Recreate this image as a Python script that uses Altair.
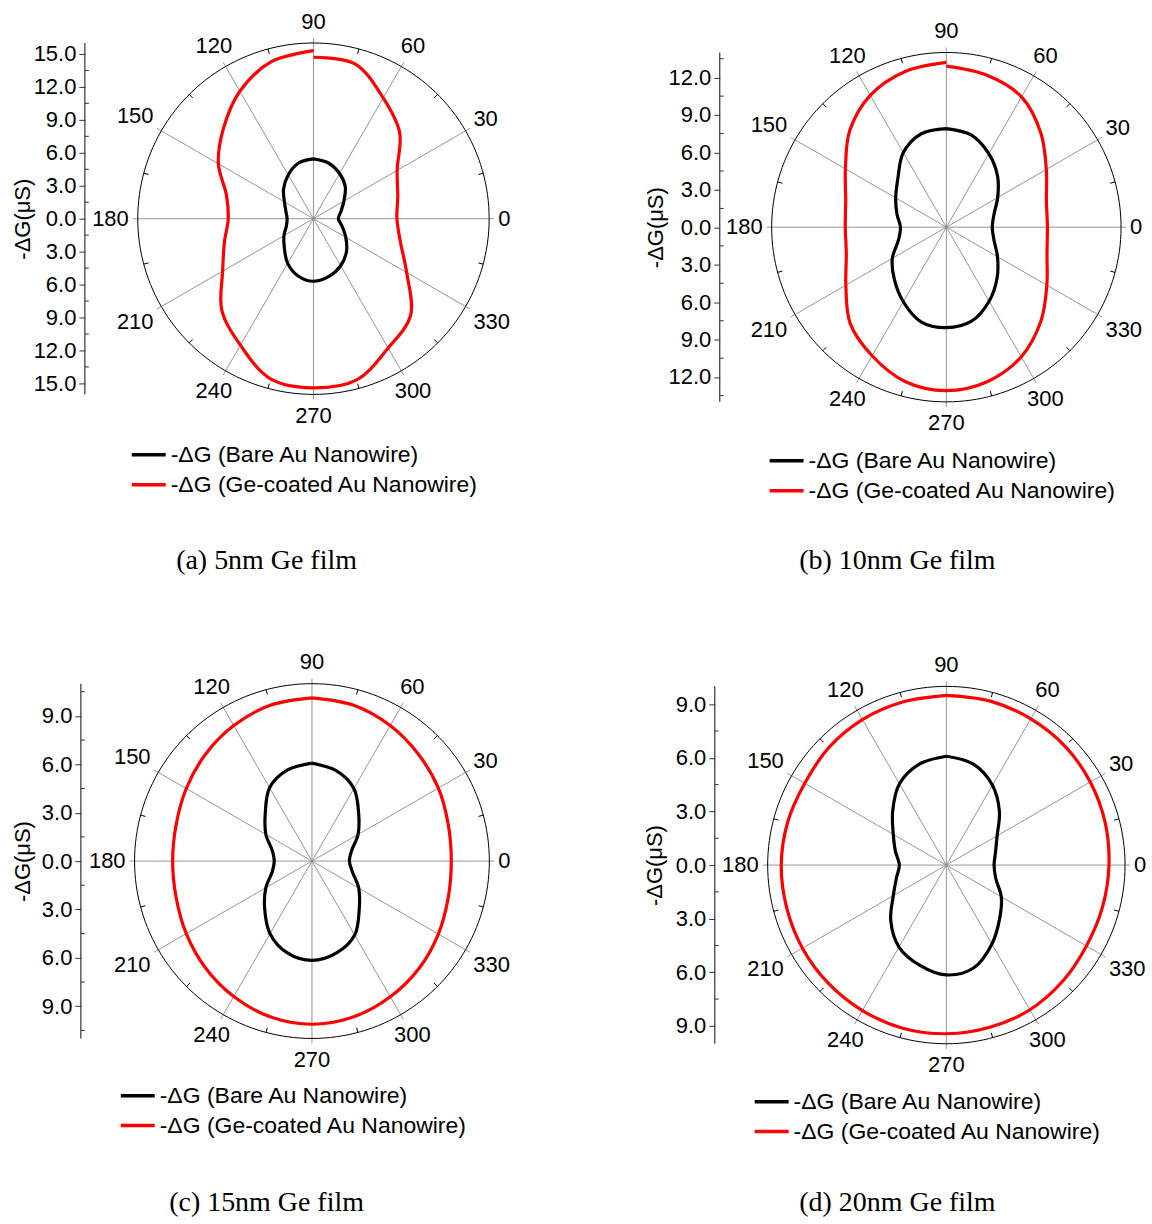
import math
import altair as alt
import pandas as pd

# Sampled polar angles (deg), running counter-clockwise from 90 deg round to 90 deg again
ANGLES = [90, 105, 120, 135, 150, 165, 180, 195, 210, 225, 240, 255,
          270, 285, 300, 315, 330, 345, 360, 375, 390, 405, 420, 435, 450]

SERIES = ["-ΔG (Bare Au Nanowire)", "-ΔG (Ge-coated Au Nanowire)"]
COLORS = ["#000000", "#ff0000"]

# -ΔG (µS) at each angle in ANGLES
A_BARE = [5.45, 5.25, 4.6, 3.85, 3.05, 2.6, 2.4, 2.55, 3.1, 3.75, 4.7, 5.4, 5.7,
          5.45, 4.95, 4.25, 3.4, 2.7, 2.27, 2.6, 3.2, 4.1, 4.75, 5.25, 5.45]
A_COATED = [15.3, 14.8, 13.4, 11.6, 10.0, 8.2, 7.76, 8.4, 9.55, 11.8, 13.3, 15.1, 15.4,
            15.2, 13.6, 12.5, 9.8, 8.2, 7.6, 7.95, 8.8, 11.1, 12.7, 14.6, 14.7]
B_BARE = [7.9, 7.75, 6.9, 5.5, 4.69, 4.1, 3.68, 3.97, 5.0, 5.9, 6.9, 7.85, 8.05,
          7.8, 6.85, 5.75, 4.73, 3.95, 3.68, 3.95, 4.75, 5.8, 6.8, 7.65, 7.9]
B_COATED = [13.2, 12.9, 12.2, 10.95, 9.34, 8.35, 8.1, 8.3, 9.3, 10.9, 11.9, 12.8, 13.1,
            12.8, 12.0, 10.7, 9.3, 8.35, 8.1, 8.3, 9.25, 10.7, 12.05, 12.6, 12.9]
C_BARE = [6.07, 5.85, 5.25, 4.1, 3.3, 2.55, 2.34, 2.55, 3.3, 4.15, 5.2, 5.9, 6.16,
          5.9, 5.3, 4.15, 3.35, 2.6, 2.32, 2.55, 3.3, 4.1, 5.2, 5.8, 6.07]
C_COATED = [10.12, 10.0, 9.7, 9.35, 9.0, 8.72, 8.64, 8.72, 9.0, 9.35, 9.7, 10.0, 10.12,
            10.0, 9.72, 9.4, 9.05, 8.75, 8.64, 8.75, 9.05, 9.35, 9.7, 10.0, 10.12]
D_BARE = [6.09, 5.85, 5.25, 4.25, 3.43, 2.95, 2.63, 2.9, 3.43, 4.4, 5.3, 5.8, 6.15,
          5.95, 5.1, 4.22, 3.55, 2.86, 2.67, 2.85, 3.28, 4.2, 5.16, 5.85, 6.09]
D_COATED = [9.5, 9.45, 9.4, 9.3, 9.15, 9.2, 9.24, 9.25, 9.3, 9.35, 9.4, 9.45, 9.44,
            9.4, 9.35, 9.2, 9.05, 9.05, 9.1, 9.2, 9.3, 9.4, 9.45, 9.5, 9.5]

CAPTIONS = ["(a) 5nm Ge film", "(b) 10nm Ge film", "(c) 15nm Ge film", "(d) 20nm Ge film"]
RADIAL_LIMIT = [16, 14, 11, 10]     # outer ring of each polar panel
RADIAL_TICK_MAX = [15, 12, 9, 9]
RADIAL_STEP = 3
ANGLE_TICKS = list(range(0, 360, 30))

AXIS_TITLE = "-ΔG(μS)"
SANS = "Liberation Sans"
SERIF = "Liberation Serif"
FS = 22

# ---- panel geometry (pixels) ----
CELL = 400
COL_LEFT = [113, 747]
ROW_TOP = [20.5, 664]
GEOM = [
    dict(cx=313, cy=220.5, R=176, ax=84, tx=22, lx=131, ly=457, capx=266, capy=563),
    dict(cx=947, cy=229, R=175, ax=720, tx=656, lx=770, ly=463, capx=898, capy=563),
    dict(cx=311.5, cy=864, R=177.7, ax=80, tx=22, lx=120, ly=1099, capx=266, capy=1207),
    dict(cx=947, cy=868, R=179, ax=715, tx=655, lx=755, ly=1105, capx=898, capy=1207),
]
DATA = [(A_BARE, A_COATED), (B_BARE, B_COATED), (C_BARE, C_COATED), (D_BARE, D_COATED)]


def panel(i):
    g = GEOM[i]
    left, top = COL_LEFT[i % 2], ROW_TOP[i // 2]
    lim = RADIAL_LIMIT[i]
    k = g["R"] / lim  # pixels per µS
    xs = alt.Scale(domain=[(left - g["cx"]) / k, (left + CELL - g["cx"]) / k], nice=False, zero=False)
    ys = alt.Scale(domain=[(g["cy"] - top - CELL) / k, (g["cy"] - top) / k], nice=False, zero=False)

    tmax = RADIAL_TICK_MAX[i]
    majors = [v for v in range(-tmax, tmax + 1, RADIAL_STEP)]
    minors = [v + RADIAL_STEP / 2 for v in range(-tmax - RADIAL_STEP, tmax + 1, RADIAL_STEP)
              if abs(v + RADIAL_STEP / 2) < lim]
    ax_px = g["ax"] - left

    yaxis = alt.Axis(values=majors, labelExpr="format(abs(datum.value), '.1f')",
                     domain=False, grid=False, offset=left - g["ax"], tickSize=6,
                     tickColor="#333333", tickWidth=1, labelPadding=3,
                     title=AXIS_TITLE, titleX=g["tx"] - g["ax"], titleY=g["cy"] - top,
                     titleAngle=270, titleAlign="center", titleBaseline="middle")
    X = alt.X("x:Q", scale=xs, axis=None)
    Y = alt.Y("y:Q", scale=ys, axis=yaxis)

    # outer ring
    ring = pd.DataFrame({"a": list(range(0, 361, 2))})
    ring_layer = alt.Chart(ring).transform_calculate(
        x=f"{lim} * cos(datum.a * PI / 180)", y=f"{lim} * sin(datum.a * PI / 180)"
    ).mark_line(color="black", strokeWidth=1).encode(x=X, y=Y, order="a:Q")

    # spokes every 30 deg, poking slightly past the ring
    ext = lim + 5 / k
    sp = pd.DataFrame({"a": ANGLE_TICKS})
    sp["x"] = 0.0
    sp["y"] = 0.0
    sp["x2"] = [ext * math.cos(math.radians(a)) for a in ANGLE_TICKS]
    sp["y2"] = [ext * math.sin(math.radians(a)) for a in ANGLE_TICKS]
    spoke_layer = alt.Chart(sp).mark_rule(color="#8a8a8a", strokeWidth=0.9).encode(
        x=X, y=Y, x2="x2:Q", y2="y2:Q")

    # small inward ticks on the ring between spokes
    mids = [a + 15 for a in ANGLE_TICKS]
    inner = lim - 5 / k
    mt = pd.DataFrame({
        "x": [inner * math.cos(math.radians(a)) for a in mids],
        "y": [inner * math.sin(math.radians(a)) for a in mids],
        "x2": [lim * math.cos(math.radians(a)) for a in mids],
        "y2": [lim * math.sin(math.radians(a)) for a in mids],
    })
    mtick_layer = alt.Chart(mt).mark_rule(color="black", strokeWidth=1).encode(
        x=X, y=Y, x2="x2:Q", y2="y2:Q")

    # angle labels around the ring
    lab_rows = []
    for a in ANGLE_TICKS:
        c, s = math.cos(math.radians(a)), math.sin(math.radians(a))
        w = len(str(a)) * 0.556 * FS
        h = 25
        t = min(w / 2 / abs(c) if abs(c) > 1e-6 else 1e9, h / 2 / abs(s) if abs(s) > 1e-6 else 1e9)
        rr = (g["R"] + 9 + t) / k
        lab_rows.append({"x": rr * c, "y": rr * s, "t": str(a)})
    lab_layer = alt.Chart(pd.DataFrame(lab_rows)).mark_text(
        font=SANS, fontSize=FS, align="center", baseline="middle", color="black"
    ).encode(x=X, y=Y, text="t:N")

    # radial axis line and its minor ticks
    axl = pd.DataFrame({"y": [-lim], "y2": [lim]})
    axis_line = alt.Chart(axl).mark_rule(color="#333333", strokeWidth=1.2).encode(
        x=alt.value(ax_px), y=Y, y2="y2:Q")
    mn = pd.DataFrame({"y": minors})
    minor_layer = alt.Chart(mn).mark_rule(color="#333333", strokeWidth=1).encode(
        x=alt.value(ax_px), x2=alt.value(ax_px + 4), y=Y)

    # measured curves
    bare, coated = DATA[i]
    cur = pd.DataFrame({
        "a": ANGLES * 2,
        "r": bare + coated,
        "series": [SERIES[0]] * len(ANGLES) + [SERIES[1]] * len(ANGLES),
    })
    curve_layer = alt.Chart(cur).transform_calculate(
        x="datum.r * cos(datum.a * PI / 180)", y="datum.r * sin(datum.a * PI / 180)"
    ).mark_line(strokeWidth=3.2, interpolate="catmull-rom").encode(
        x=X, y=Y, order="a:Q",
        color=alt.Color("series:N", scale=alt.Scale(domain=SERIES, range=COLORS), legend=None))

    # legend
    leg = []
    for j, name in enumerate(SERIES):
        yy = g["ly"] - top + 30 * j
        x0 = g["lx"] - left
        leg.append(alt.Chart(pd.DataFrame({"t": [name]})).mark_rule(
            color=COLORS[j], strokeWidth=3.5).encode(
            x=alt.value(x0), x2=alt.value(x0 + 34), y=alt.value(yy)))
        leg.append(alt.Chart(pd.DataFrame({"t": [name]})).mark_text(
            font=SANS, fontSize=23, align="left", baseline="middle", color="black").encode(
            x=alt.value(x0 + 39), y=alt.value(yy), text="t:N"))

    cap = alt.Chart(pd.DataFrame({"t": [CAPTIONS[i]]})).mark_text(
        font=SERIF, fontSize=28, align="center", baseline="middle", color="black").encode(
        x=alt.value(g["capx"] - left), y=alt.value(g["capy"] - top), text="t:N")

    return alt.layer(spoke_layer, ring_layer, mtick_layer, axis_line, minor_layer,
                     curve_layer, lab_layer, *leg, cap).properties(width=CELL, height=CELL)


chart = alt.concat(*[panel(i) for i in range(4)], columns=2,
                   spacing={"row": ROW_TOP[1] - ROW_TOP[0] - CELL,
                            "column": COL_LEFT[1] - COL_LEFT[0] - CELL},
                   bounds="flush").properties(
    padding={"left": 11, "top": 8, "right": 5, "bottom": 5},
    background="white",
).configure_view(stroke="transparent").configure_axis(
    labelFont=SANS, labelFontSize=FS, labelColor="black",
    titleFont=SANS, titleFontSize=FS, titleColor="black", titleFontWeight="normal",
)

chart.save("out.html", embed_options={"renderer": "svg", "actions": False})
